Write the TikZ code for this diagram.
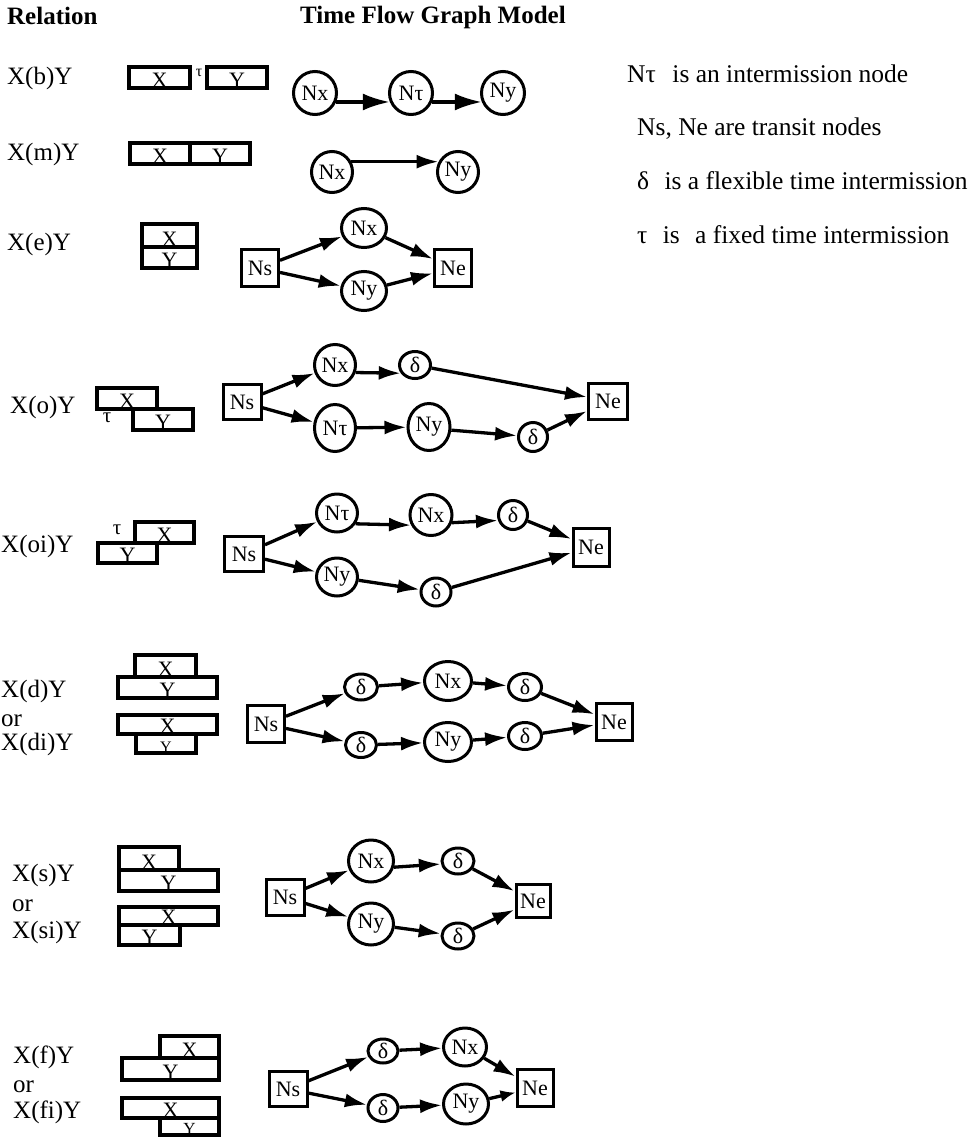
\documentclass[tikz,border=0pt]{standalone}
\usepackage{fontspec}
\setmainfont{Liberation Serif}
\usetikzlibrary{arrows.meta,shapes.geometric}

% interval bar: name, x1, y1, x2, y2, letter (letter sits on the bottom edge)
\newcommand\relbox[6]{%
  \draw[barline] (#2,#3) rectangle (#4,#5);
  \node[barlbl] (#1) at ({(#2+#4)/2},{#5-0.5}) {#6};
}

\begin{document}
\begin{tikzpicture}[x=1pt,y=-1pt,
  txt/.style={anchor=base west, inner sep=0pt, font=\fontsize{25}{30}\selectfont},
  head/.style={anchor=base west, inner sep=0pt, font=\fontsize{25}{30}\selectfont\bfseries},
  legtext/.style={anchor=base west, inner sep=0pt, font=\fontsize{25.5}{30}\selectfont},
  evt/.style={draw, ellipse, line width=3pt, inner sep=0pt,
              minimum width=43pt, minimum height=41pt, font=\fontsize{22}{25}\selectfont},
  dnode/.style={evt, minimum width=31pt, minimum height=27pt},
  transit/.style={draw, rectangle, line width=3pt, inner sep=0pt,
              minimum width=37pt, minimum height=37pt, font=\fontsize{22}{25}\selectfont},
  flow/.style={line width=3.3pt, -{Latex[length=22pt,width=14pt]}},
  bigflow/.style={line width=3.3pt, -{Latex[length=27pt,width=17pt]}},
  barline/.style={line width=3.3pt, fill=white},
  barlbl/.style={anchor=base, inner sep=0pt, font=\fontsize{22}{25}\selectfont},
  tau/.style={inner sep=0pt, font=\fontsize{21}{24}\selectfont},
]
\fill[white] (0,0) rectangle (970,1138);
\useasboundingbox (0,0) rectangle (970,1138);

% ---------- headings ----------
\node[head] (hRel) at (7,24) {Relation};
\node[head] (hTfg) at (300,23) {Time Flow Graph Model};

% ---------- legend ----------
\node[legtext] (leg1) at (627,82) {Nτ\hspace{0.4em} is an intermission node};
\node[legtext] (leg2) at (637,135.5) {Ns, Ne are transit nodes};
\node[legtext] (leg3) at (637,189) {δ\hspace{0.35em} is a flexible time intermission};
\node[legtext] (leg4) at (637,243) {τ\hspace{0.35em} is\hspace{0.35em} a fixed time intermission};

% ---------- relation names ----------
\node[txt] (tb)   at (7,84)    {X(b)Y};
\node[txt] (tm)   at (7,160)   {X(m)Y};
\node[txt] (te)   at (7,250)   {X(e)Y};
\node[txt] (to)   at (10,413)  {X(o)Y};
\node[txt] (toi)  at (1,552)   {X(oi)Y};
\node[txt] (td)   at (1,697)   {X(d)Y};
\node[txt] (tdor) at (1,726)   {or};
\node[txt] (tdi)  at (1,750)   {X(di)Y};
\node[txt] (ts)   at (12,881)  {X(s)Y};
\node[txt] (tsor) at (12,911)  {or};
\node[txt] (tsi)  at (12,938)  {X(si)Y};
\node[txt] (tf)   at (13,1063) {X(f)Y};
\node[txt] (tfor) at (13,1092) {or};
\node[txt] (tfi)  at (13,1118) {X(fi)Y};

% ---------- interval bars ----------
% before
\relbox{bX}{129}{67}{190}{88}{X}
\node[tau, font=\fontsize{16}{18}\selectfont] (bTau) at (199,73) {τ};
\relbox{bY}{207}{67}{267}{88}{Y}
% meets
\relbox{mX}{130}{143}{190}{164}{X}
\relbox{mY}{190}{143}{250}{164}{Y}
% equals
\relbox{eX}{142}{224}{197}{247}{X}
\relbox{eY}{142}{247}{197}{268}{Y}
% overlaps
\relbox{oX}{97}{388}{157}{409}{X}
\relbox{oY}{133}{409}{193}{430}{Y}
\node[tau] (oTau) at (107,418) {τ};
% overlapped-by
\relbox{iX}{135}{522}{194}{543}{X}
\relbox{iY}{98}{543}{157}{563}{Y}
\node[tau] (iTau) at (117,530) {τ};
% during / contains
\relbox{dY}{118}{677}{217}{698}{Y}
\relbox{dX}{135}{655}{196}{677}{X}
\draw[barline] (136,734) rectangle (196,753);
\node[barlbl, font=\fontsize{16}{18}\selectfont] (diY) at (166,752.5) {Y};
\relbox{diX}{118}{715}{217}{734}{X}
% starts / started-by
\relbox{sY}{119}{870}{218}{891}{Y}
\relbox{sX}{119}{847}{179}{870}{X}
\relbox{siY}{119}{925}{180}{945}{Y}
\relbox{siX}{119}{907}{218}{925}{X}
% finishes / finished-by
\relbox{fY}{122}{1058}{219}{1080}{Y}
\relbox{fX}{160}{1036}{219}{1058}{X}
\draw[barline] (160,1118) rectangle (219,1135);
\node[barlbl, font=\fontsize{17}{19}\selectfont] (fiY) at (189.5,1134.5) {Y};
\relbox{fiX}{122}{1098}{219}{1118}{X}

% ---------- graph: before ----------
\node[evt, minimum size=43pt] (bNx) at (315,93) {Nx};
\node[evt, minimum size=43pt] (bNt) at (411,93) {Nτ};
\node[evt, minimum size=43pt] (bNy) at (503,93) {Ny};
\draw[bigflow] (bNx.-23) -- (bNt.-157);
\draw[bigflow] (bNt.-23) -- (bNy.-157);

% ---------- graph: meets ----------
\node[evt, minimum size=41pt] (mNx) at (332,172) {Nx};
\node[evt, minimum size=41pt] (mNy) at (458,172) {Ny};
\draw[flow] (mNx.28) -- (mNy.152);

% ---------- graph: equals ----------
\node[transit] (eNs) at (260,268) {Ns};
\node[evt, minimum width=45pt, minimum height=39pt] (eNx) at (364,228) {Nx};
\node[evt, minimum width=45pt, minimum height=39pt] (eNy) at (364,291) {Ny};
\node[transit] (eNe) at (453,268) {Ne};
\draw[flow] (eNs) -- (eNx);
\draw[flow] (eNs) -- (eNy);
\draw[flow] (eNx) -- (eNe);
\draw[flow] (eNy) -- (eNe);

% ---------- graph: overlaps ----------
\node[transit, minimum width=38pt, minimum height=35pt] (oNs) at (242,402) {Ns};
\node[evt, minimum width=41pt, minimum height=41pt] (oNx) at (335,365) {Nx};
\node[dnode] (oD1) at (415,365) {δ};
\node[evt, minimum width=41pt, minimum height=47pt] (oNt) at (335,428) {Nτ};
\node[evt, minimum width=42pt, minimum height=47pt] (oNy) at (429,427) {Ny};
\node[dnode, minimum width=29pt, minimum height=29pt] (oD2) at (533,437) {δ};
\node[transit, minimum width=39pt, minimum height=36pt] (oNe) at (608,401) {Ne};
\draw[flow] (oNs) -- (oNx);
\draw[flow] (oNs) -- (oNt);
\draw[flow] (oNx.-20) -- (oD1.210);
\draw[flow] (oD1) -- (oNe);
\draw[flow] (oNt) -- (oNy);
\draw[flow] (oNy.-8) -- (oD2.175);
\draw[flow] (oD2) -- (oNe);

% ---------- graph: overlapped-by ----------
\node[transit, minimum width=39pt, minimum height=35pt] (iNs) at (244,554) {Ns};
\node[evt, minimum width=41pt, minimum height=38pt] (iNt) at (337,513) {Nτ};
\node[evt, minimum width=42pt, minimum height=41pt] (iNx) at (431,515) {Nx};
\node[dnode, minimum width=29pt, minimum height=29pt] (iD1) at (513,515) {δ};
\node[evt, minimum width=41pt, minimum height=38pt] (iNy) at (337,577) {Ny};
\node[dnode, minimum width=30pt, minimum height=28pt] (iD2) at (436,592) {δ};
\node[transit, minimum width=36pt, minimum height=38pt] (iNe) at (591,547) {Ne};
\draw[flow] (iNs) -- (iNt);
\draw[flow] (iNs) -- (iNy);
\draw[flow] (iNt.-30) -- (iNx.-153);
\draw[flow] (iNx.-20) -- (iD1.200);
\draw[flow] (iD1) -- (iNe);
\draw[flow] (iNy) -- (iD2);
\draw[flow] (iD2) -- (iNe);

% ---------- graph: during / contains ----------
\node[transit] (dNs) at (266,724) {Ns};
\node[dnode, minimum width=33pt, minimum height=26pt] (dD1) at (361,687) {δ};
\node[evt, minimum width=47pt, minimum height=39pt] (dNx) at (448,681) {Nx};
\node[dnode, minimum width=33pt, minimum height=27pt] (dD3) at (525,687) {δ};
\node[dnode, minimum width=31pt, minimum height=25pt] (dD2) at (361,745) {δ};
\node[evt, minimum width=47pt, minimum height=39pt] (dNy) at (448,742) {Ny};
\node[dnode, minimum width=33pt, minimum height=27pt] (dD4) at (525,736) {δ};
\node[transit, minimum width=36pt, minimum height=37pt] (dNe) at (614,722) {Ne};
\draw[flow] (dNs) -- (dD1);
\draw[flow] (dD1) -- (dNx);
\draw[flow] (dNx) -- (dD3);
\draw[flow] (dD3) -- (dNe);
\draw[flow] (dNs) -- (dD2);
\draw[flow] (dD2) -- (dNy);
\draw[flow] (dNy) -- (dD4);
\draw[flow] (dD4) -- (dNe);

% ---------- graph: starts / started-by ----------
\node[transit, minimum width=38pt, minimum height=36pt] (sNs) at (285,897) {Ns};
\node[evt, minimum width=45pt, minimum height=42pt] (sNx) at (371,861) {Nx};
\node[dnode, minimum width=32pt, minimum height=26pt] (sD1) at (458,861) {δ};
\node[evt, minimum width=45pt, minimum height=42pt] (sNy) at (371,924) {Ny};
\node[dnode, minimum width=32pt, minimum height=26pt] (sD2) at (458,936) {δ};
\node[transit, minimum width=34pt, minimum height=33pt] (sNe) at (533,901) {Ne};
\draw[flow] (sNs) -- (sNx);
\draw[flow] (sNx.-15) -- (sD1.190);
\draw[flow] (sD1) -- (sNe);
\draw[flow] (sNs) -- (sNy);
\draw[flow] (sNy) -- (sD2);
\draw[flow] (sD2) -- (sNe);

% ---------- graph: finishes / finished-by ----------
\node[transit, minimum width=38pt, minimum height=35pt] (fNs) at (288,1089) {Ns};
\node[dnode, minimum width=30pt, minimum height=24pt] (fD1) at (383,1051) {δ};
\node[evt, minimum width=43pt, minimum height=38pt] (fNx) at (465,1047) {Nx};
\node[dnode, minimum width=30pt, minimum height=27pt] (fD2) at (383,1108) {δ};
\node[evt, minimum width=45pt, minimum height=40pt] (fNy) at (466,1104) {Ny};
\node[transit, minimum width=36pt, minimum height=37pt] (fNe) at (535,1088) {Ne};
\draw[flow] (fNs) -- (fD1);
\draw[flow] (fD1) -- (fNx);
\draw[flow] (fNx) -- (fNe);
\draw[flow] (fNs) -- (fD2);
\draw[flow] (fD2) -- (fNy);
\draw[flow, -{Latex[length=15pt,width=12pt]}] (fNy) -- (fNe);
\end{tikzpicture}
\end{document}
